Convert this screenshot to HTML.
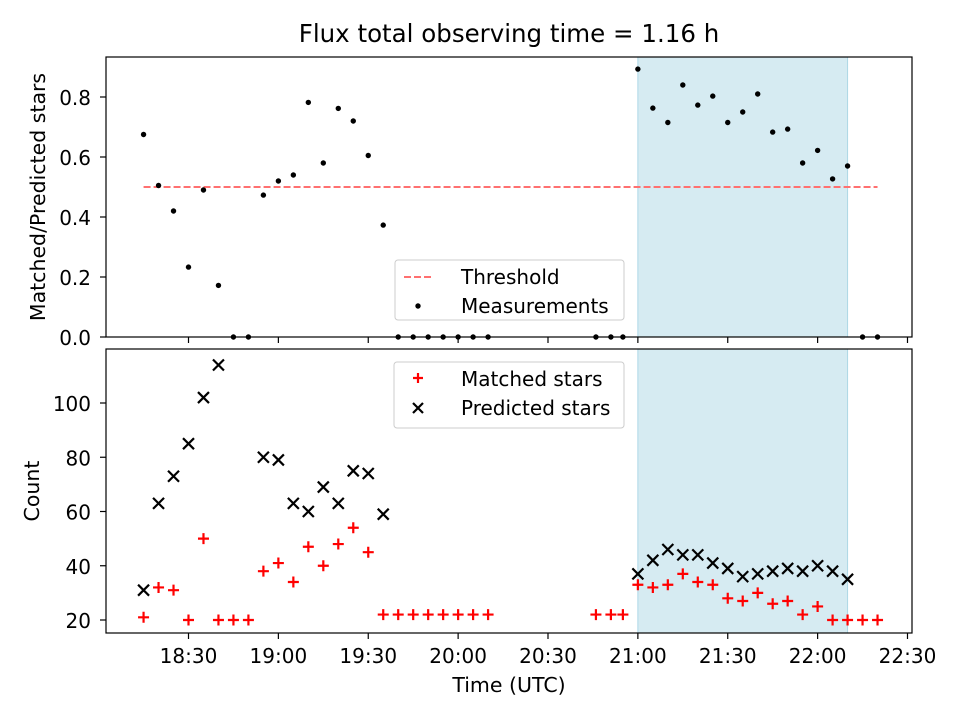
<!DOCTYPE html>
<html><head><meta charset="utf-8"><style>
body{margin:0;background:#fff}
svg text{font-family:"DejaVu Sans","Liberation Sans",sans-serif;fill:#000}
</style></head><body>
<svg id="chart" width="960" height="720" xmlns="http://www.w3.org/2000/svg"></svg>
<script>
const ratioTimes=["18:15","18:20","18:25","18:30","18:35","18:40","18:45","18:50","18:55","19:00","19:05","19:10","19:15","19:20","19:25","19:30","19:35","19:40","19:45","19:50","19:55","20:00","20:05","20:10","20:46","20:51","20:55","21:00","21:05","21:10","21:15","21:20","21:25","21:30","21:35","21:40","21:45","21:50","21:55","22:00","22:05","22:10","22:15","22:20"];
const ratioValues=[0.675,0.505,0.42,0.233,0.49,0.172,0,0,0.473,0.52,0.54,0.782,0.58,0.762,0.72,0.605,0.373,0,0,0,0,0,0,0,0,0,0,0.893,0.763,0.715,0.84,0.773,0.803,0.715,0.75,0.81,0.683,0.693,0.58,0.622,0.527,0.57,0,0];
const matchedValues=[21,32,31,20,50,20,20,20,38,41,34,47,40,48,54,45,22,22,22,22,22,22,22,22,22,22,22,33,32,33,37,34,33,28,27,30,26,27,22,25,20,20,20,20];
const predTimes=["18:15","18:20","18:25","18:30","18:35","18:40","18:55","19:00","19:05","19:10","19:15","19:20","19:25","19:30","19:35","21:00","21:05","21:10","21:15","21:20","21:25","21:30","21:35","21:40","21:45","21:50","21:55","22:00","22:05","22:10"];
const predValues=[31,63,73,85,102,114,80,79,63,60,69,63,75,74,59,37,42,46,44,44,41,39,36,37,38,39,38,40,38,35];
const xTickLabels=["18:30","19:00","19:30","20:00","20:30","21:00","21:30","22:00","22:30"];
const topTicks=[0,0.2,0.4,0.6,0.8];
const botTicks=[20,40,60,80,100];
const threshold=0.5, thrStart="18:15", thrEnd="22:20", spanStart="21:00", spanEnd="22:10";

const NS="http://www.w3.org/2000/svg", svg=document.getElementById('chart');
function mk(t,a,p){const e=document.createElementNS(NS,t);for(const k in a)e.setAttribute(k,a[k]);(p||svg).appendChild(e);return e;}
const L=106,R=912,T1=57,B1=337,T2=349,B2=633;
function mins(s){const [h,m]=s.split(':').map(Number);return h*60+m;}
const x=s=>188.5+(mins(s)-mins("18:30"))*2.9958;
const y1=v=>337-v*300;
const y2=v=>620-(v-20)*2.7125;

for(const [t,b] of [[T1,B1],[T2,B2]]){
  const r=mk('rect',{x:x(spanStart),y:t,width:x(spanEnd)-x(spanStart),height:b-t,fill:'#add8e6','fill-opacity':0.5,stroke:'#add8e6'});
  
  
}
const th=mk('line',{x1:x(thrStart),x2:x(thrEnd),y1:y1(threshold),y2:y1(threshold),stroke:'#ff7070','stroke-width':2,'stroke-dasharray':'7,3'});


ratioTimes.forEach((t,i)=>{
  const c=mk('circle',{cx:x(t),cy:y1(ratioValues[i]),r:2.7,fill:'#000'});
  
  
});
ratioTimes.forEach((t,i)=>{
  const cx=x(t),cy=y2(matchedValues[i]);
  const p=mk('path',{d:`M${cx-5.5},${cy}H${cx+5.5}M${cx},${cy-5.5}V${cy+5.5}`,stroke:'#f00','stroke-width':2.2});
  
  
});
predTimes.forEach((t,i)=>{
  const cx=x(t),cy=y2(predValues[i]);
  const p=mk('path',{d:`M${cx-5.5},${cy-5.5}L${cx+5.5},${cy+5.5}M${cx-5.5},${cy+5.5}L${cx+5.5},${cy-5.5}`,stroke:'#000','stroke-width':2.2});
  
  
});
for(const [t,b] of [[T1,B1],[T2,B2]]) mk('rect',{x:L,y:t,width:R-L,height:b-t,fill:'none',stroke:'#000','stroke-width':1.2});
xTickLabels.forEach(lab=>{
  const xx=x(lab);
  mk('line',{x1:xx,x2:xx,y1:B1,y2:B1+6,stroke:'#000','stroke-width':1.2});
  mk('line',{x1:xx,x2:xx,y1:B2,y2:B2+6,stroke:'#000','stroke-width':1.2});
  const tx=mk('text',{x:xx,y:663,'text-anchor':'middle','font-size':20});tx.textContent=lab;
  
  
});
topTicks.forEach(v=>{
  mk('line',{x1:L-6,x2:L,y1:y1(v),y2:y1(v),stroke:'#000','stroke-width':1.2});
  const tx=mk('text',{x:L-15,y:y1(v)+8,'text-anchor':'end','font-size':20});tx.textContent=v.toFixed(1);
  
  
});
botTicks.forEach(v=>{
  mk('line',{x1:L-6,x2:L,y1:y2(v),y2:y2(v),stroke:'#000','stroke-width':1.2});
  const tx=mk('text',{x:L-15,y:y2(v)+8,'text-anchor':'end','font-size':20});tx.textContent=v;
  
  
});
</script>
<svg style="position:absolute;left:0;top:0" width="960" height="720" xmlns="http://www.w3.org/2000/svg">
<text x="509" y="42" text-anchor="middle" font-size="24.5">Flux total observing time = 1.16 h</text>
<text x="509" y="692" text-anchor="middle" font-size="20.5">Time (UTC)</text>
<text transform="translate(45,197) rotate(-90)" text-anchor="middle" font-size="20.5">Matched/Predicted stars</text>
<text transform="translate(39,491) rotate(-90)" text-anchor="middle" font-size="20.5">Count</text>
<g>
<rect x="395" y="260" width="229" height="60" rx="3" fill="#fff" fill-opacity="0.8" stroke="#ccc"/>
<line x1="404" x2="432" y1="277" y2="277" stroke="#ff7070" stroke-width="2" stroke-dasharray="7,3"/>
<text x="461" y="284" font-size="20">Threshold</text>
<circle cx="418" cy="306" r="2.7" fill="#000"/>
<text x="461" y="313" font-size="20">Measurements</text>
</g>
<g>
<rect x="394" y="362" width="230" height="66" rx="3" fill="#fff" fill-opacity="0.8" stroke="#ccc"/>
<path d="M418,373V383M413,378H423" stroke="#f00" stroke-width="2.2"/>
<text x="461" y="386" font-size="20">Matched stars</text>
<path d="M413,403L423,413M413,413L423,403" stroke="#000" stroke-width="2.2"/>
<text x="461" y="415" font-size="20">Predicted stars</text>
</g>
</svg>
</body></html>
